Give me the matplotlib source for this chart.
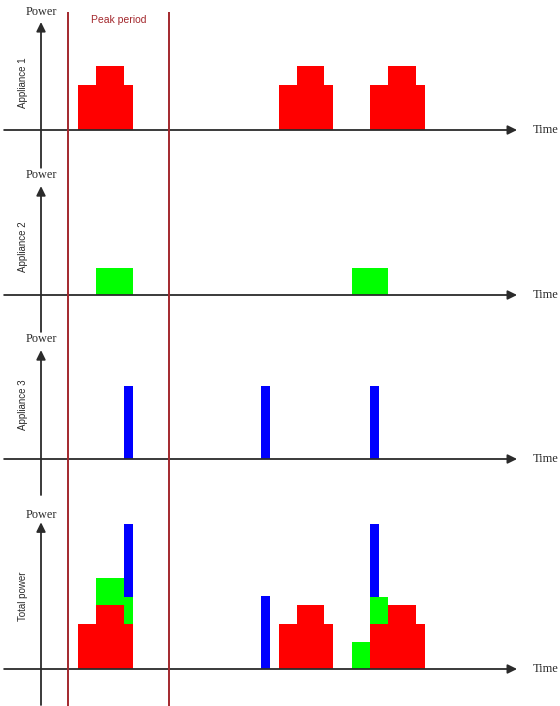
import matplotlib
matplotlib.use("Agg")
import matplotlib.pyplot as plt
import numpy as np

# ---- data (time units, power units) ----
app1_base_start = [4.1, 26.4, 36.6]
app1_base_end = [10.2, 32.4, 42.7]
app1_base_level = [5.0, 5.0, 5.0]
app1_top_start = [6.1, 28.4, 38.6]
app1_top_end = [9.2, 31.4, 41.7]
app1_top_level = [2.1, 2.1, 2.1]
app2_start = [6.1, 34.6]
app2_end = [10.2, 38.6]
app2_level = [3.0, 3.0]
app3_start = [9.2, 24.4, 36.6]
app3_end = [10.2, 25.4, 37.6]
app3_level = [8.1, 8.1, 8.1]
peak_period = [3.0, 14.25]

panel_labels = ["Appliance 1", "Appliance 2", "Appliance 3", "Total power"]
y_label = "Power"
x_label = "Time"
peak_label = "Peak period"

RED, GREEN, BLUE = "#ff0000", "#00ff00", "#0000ff"
PEAK_COL = "#a3282d"
AXCOL = "#2b2b2b"

W, H = 560, 706
fig = plt.figure(figsize=(W / 100, H / 100), dpi=100, facecolor="white")

XLIM = (-41 / 9, 519 / 9)
# panel layout in pixels: top, bottom, baseline
layout = [(0, 165, 130), (165, 330, 295), (330, 495, 459), (495, 706, 669)]
tips = [12.0, 12.1, 12.1, 16.3]
vbottom = [-4.2, -4.1, -4.0, -4.0]
power_y = [13.1, 13.3, 13.3, 17.1]
label_y = [5.3, 5.4, 6.0, 8.1]

# time grid from breakpoints
all_pts = sorted(set(app1_base_start + app1_base_end + app1_top_start + app1_top_end +
                     app2_start + app2_end + app3_start + app3_end + list(XLIM)))
edges = np.array(all_pts)
mids = (edges[:-1] + edges[1:]) / 2


def profile(groups):
    vals = np.zeros(len(mids))
    for starts, ends, levels in groups:
        for s, e, l in zip(starts, ends, levels):
            vals += np.where((mids > s) & (mids < e), l, 0.0)
    return np.append(vals, vals[-1])


p1 = profile([(app1_base_start, app1_base_end, app1_base_level),
              (app1_top_start, app1_top_end, app1_top_level)])
p2 = profile([(app2_start, app2_end, app2_level)])
p3 = profile([(app3_start, app3_end, app3_level)])
zero = np.zeros_like(p1)

axes = []
for i, (T, B, base) in enumerate(layout):
    ax = fig.add_axes([0, 1 - B / H, 1, (B - T) / H])
    ax.set_xlim(*XLIM)
    ax.set_ylim((base - B) / 9, (base - T) / 9)
    ax.axis("off")
    axes.append(ax)

fill_kw = dict(step="post", lw=0, zorder=2)
axes[0].fill_between(edges, zero, p1, color=RED, **fill_kw)
axes[1].fill_between(edges, zero, p2, color=GREEN, **fill_kw)
axes[2].fill_between(edges, zero, p3, color=BLUE, **fill_kw)
axes[3].fill_between(edges, zero, p1, color=RED, **fill_kw)
axes[3].fill_between(edges, p1, p1 + p2, color=GREEN, **fill_kw)
axes[3].fill_between(edges, p1 + p2, p1 + p2 + p3, color=BLUE, **fill_kw)

arrow_kw = dict(arrowstyle="-|>,head_length=0.55,head_width=0.27", color=AXCOL,
                lw=1.3, shrinkA=0, shrinkB=0, mutation_scale=10)
for i, ax in enumerate(axes):
    ax.annotate("", xy=(52.9, 0), xytext=(-4.1, 0), arrowprops=arrow_kw,
                annotation_clip=False, zorder=5)
    ax.annotate("", xy=(0, tips[i]), xytext=(0, vbottom[i]), arrowprops=arrow_kw,
                annotation_clip=False, zorder=5)
    ax.text(0.05, power_y[i], y_label, ha="center", va="center", fontsize=8.8,
            family="Liberation Serif", color=AXCOL)
    ax.text(54.6, 0, x_label, ha="left", va="center", fontsize=9,
            family="Liberation Serif", color=AXCOL)
    ax.text(-2.0, label_y[i], panel_labels[i], ha="center", va="center", rotation=90,
            fontsize=7, family="Liberation Sans", color=AXCOL)

ov = fig.add_axes([0, 0, 1, 1])
ov.set_xlim(*XLIM)
ov.set_ylim(0, 1)
ov.axis("off")
ov.patch.set_alpha(0)
ov.vlines(peak_period, 0, 1 - 12 / H, color=PEAK_COL, lw=1.4)
ov.text(sum(peak_period) / 2, 1 - 20 / H, peak_label, ha="center", va="center",
        fontsize=7.5, family="Liberation Sans", color=PEAK_COL)

fig.savefig("out.png", dpi=100, facecolor="white")
